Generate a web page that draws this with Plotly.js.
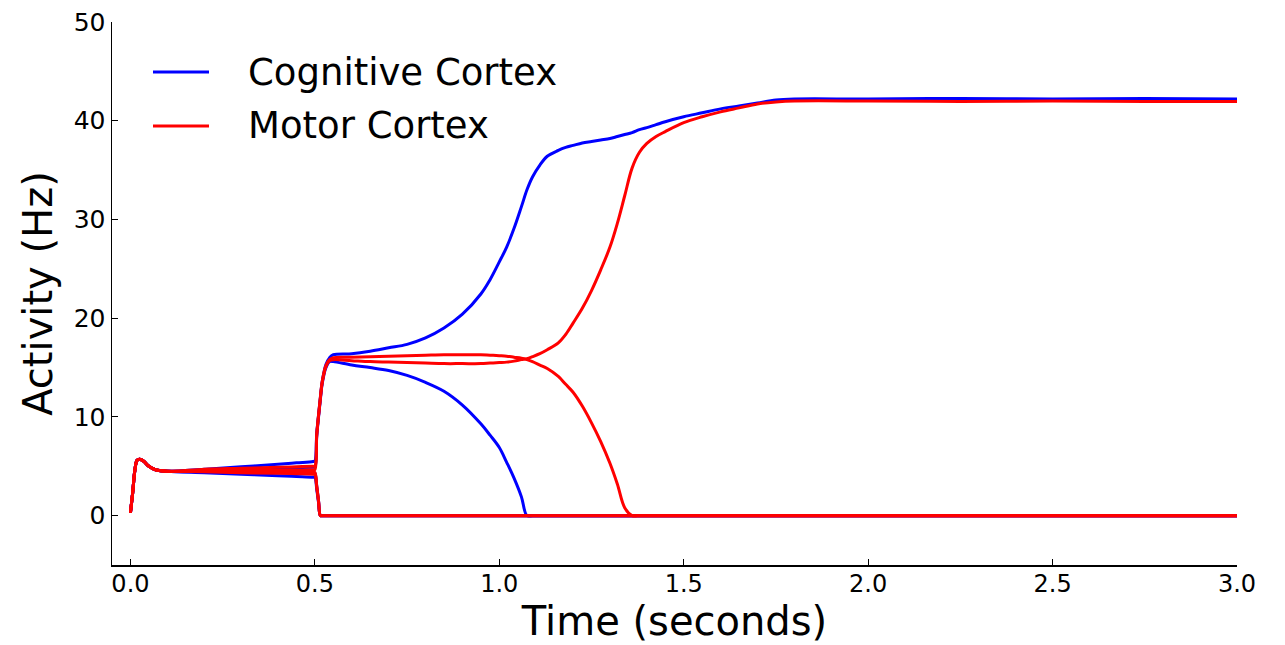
<!DOCTYPE html>
<html>
<head>
<meta charset="utf-8">
<script src="https://cdn.plot.ly/plotly-3.0.1.min.js"></script>
<style>
  html, body { margin: 0; padding: 0; background: #ffffff; }
  #chart { width: 1285px; height: 645px; }
</style>
</head>
<body>
<div id="chart"></div>
<script>
// ---- Data ----
const time = [0, 0.006, 0.012, 0.018, 0.025, 0.036, 0.05, 0.068, 0.1,
  0.2, 0.3, 0.4, 0.45, 0.495, 0.5, 0.505, 0.51, 0.515, 0.52,
  0.53, 0.54, 0.55, 0.6, 0.65, 0.7, 0.75, 0.8, 0.85, 0.9,
  0.95, 0.975, 1.0, 1.02, 1.04, 1.06, 1.075, 1.09, 1.11, 1.13,
  1.16, 1.18, 1.2, 1.225, 1.25, 1.275, 1.3, 1.32, 1.34, 1.36,
  1.38, 1.4, 1.425, 1.45, 1.5, 1.55, 1.6, 1.65, 1.7, 1.75,
  1.8, 2.0, 2.25, 2.5, 2.75, 3.0];

// Cognitive cortex channels (Hz)
const cog1 = [0.3, 2.3, 4.6, 5.6, 5.7, 5.5, 5.0, 4.65, 4.5,
  4.7, 4.95, 5.2, 5.35, 5.48, 5.55, 8.3, 10.2, 12.0, 13.6,
  15.3, 16.0, 16.3, 16.4, 16.65, 17.0, 17.35, 18.0, 19.0, 20.4,
  22.45, 23.9, 25.7, 27.2, 29.1, 31.3, 33.0, 34.3, 35.5, 36.4,
  37.0, 37.3, 37.5, 37.75, 37.9, 38.05, 38.2, 38.4, 38.6, 38.8,
  39.1, 39.3, 39.6, 39.9, 40.4, 40.8, 41.2, 41.5, 41.8, 42.1,
  42.2, 42.2, 42.25, 42.2, 42.25, 42.2];
const cog2 = [0.3, 2.3, 4.6, 5.6, 5.7, 5.5, 5.0, 4.65, 4.5,
  4.6, 4.7, 4.8, 4.85, 4.9, 4.9, 8.0, 10.0, 11.8, 13.4,
  15.0, 15.6, 15.6, 15.25, 15.0, 14.7, 14.2, 13.5, 12.6, 11.2,
  9.3, 8.15, 6.9, 5.4, 3.8, 1.9, 0, 0, 0, 0,
  0, 0, 0, 0, 0, 0, 0, 0, 0, 0,
  0, 0, 0, 0, 0, 0, 0, 0, 0, 0,
  0, 0, 0, 0, 0, 0];
const cog3 = [0.3, 2.3, 4.6, 5.6, 5.7, 5.5, 5.0, 4.65, 4.5,
  4.45, 4.4, 4.35, 4.32, 4.3, 4.3, 3.0, 1.5, 0, 0,
  0, 0, 0, 0, 0, 0, 0, 0, 0, 0,
  0, 0, 0, 0, 0, 0, 0, 0, 0, 0,
  0, 0, 0, 0, 0, 0, 0, 0, 0, 0,
  0, 0, 0, 0, 0, 0, 0, 0, 0, 0,
  0, 0, 0, 0, 0, 0];
const cog4 = [0.3, 2.3, 4.6, 5.6, 5.7, 5.5, 5.0, 4.65, 4.5,
  4.35, 4.2, 4.05, 3.97, 3.9, 3.9, 2.7, 1.3, 0, 0,
  0, 0, 0, 0, 0, 0, 0, 0, 0, 0,
  0, 0, 0, 0, 0, 0, 0, 0, 0, 0,
  0, 0, 0, 0, 0, 0, 0, 0, 0, 0,
  0, 0, 0, 0, 0, 0, 0, 0, 0, 0,
  0, 0, 0, 0, 0, 0];

// Motor cortex channels (Hz)
const mot1 = [0.3, 2.3, 4.6, 5.6, 5.7, 5.5, 5.0, 4.65, 4.5,
  4.55, 4.6, 4.6, 4.62, 4.65, 4.65, 8.1, 10.1, 11.9, 13.5,
  15.1, 15.7, 15.8, 15.7, 15.6, 15.55, 15.5, 15.45, 15.4, 15.4,
  15.4, 15.45, 15.5, 15.55, 15.65, 15.8, 15.9, 16.1, 16.4, 16.8,
  17.5, 18.35, 19.5, 21.0, 22.8, 24.9, 27.2, 29.6, 32.4, 35.2,
  36.8, 37.7, 38.4, 38.9, 39.8, 40.4, 40.9, 41.3, 41.7, 41.9,
  42.0, 42.0, 41.95, 42.0, 41.95, 41.95];
const mot2 = [0.3, 2.3, 4.6, 5.6, 5.7, 5.5, 5.0, 4.65, 4.5,
  4.7, 4.8, 4.9, 4.95, 5.0, 5.0, 8.2, 10.2, 12.0, 13.6,
  15.2, 15.8, 16.0, 16.05, 16.1, 16.15, 16.2, 16.25, 16.3, 16.3,
  16.3, 16.25, 16.2, 16.15, 16.05, 15.95, 15.8, 15.6, 15.25, 14.9,
  14.1, 13.3, 12.5, 11.1, 9.4, 7.5, 5.3, 3.2, 0.8, 0,
  0, 0, 0, 0, 0, 0, 0, 0, 0, 0,
  0, 0, 0, 0, 0, 0];
const mot3 = [0.3, 2.3, 4.6, 5.6, 5.7, 5.5, 5.0, 4.65, 4.5,
  4.5, 4.45, 4.4, 4.39, 4.38, 4.38, 3.0, 1.5, 0, 0,
  0, 0, 0, 0, 0, 0, 0, 0, 0, 0,
  0, 0, 0, 0, 0, 0, 0, 0, 0, 0,
  0, 0, 0, 0, 0, 0, 0, 0, 0, 0,
  0, 0, 0, 0, 0, 0, 0, 0, 0, 0,
  0, 0, 0, 0, 0, 0];
const mot4 = [0.3, 2.3, 4.6, 5.6, 5.7, 5.5, 5.0, 4.65, 4.5,
  4.45, 4.35, 4.3, 4.25, 4.2, 4.2, 2.9, 1.4, 0, 0,
  0, 0, 0, 0, 0, 0, 0, 0, 0, 0,
  0, 0, 0, 0, 0, 0, 0, 0, 0, 0,
  0, 0, 0, 0, 0, 0, 0, 0, 0, 0,
  0, 0, 0, 0, 0, 0, 0, 0, 0, 0,
  0, 0, 0, 0, 0, 0];

const legendLabels = ["Cognitive Cortex", "Motor Cortex"];
const xTickVals = [0.0, 0.5, 1.0, 1.5, 2.0, 2.5, 3.0];
const yTickVals = [0, 10, 20, 30, 40, 50];

// ---- Styles ----
const BLUE = "#0000ff";
const RED = "#ff0000";
const FONT = "DejaVu Sans, sans-serif";

function tr(y, color, name) {
  return {
    x: time, y: y, type: "scatter", mode: "lines", name: name,
    line: { color: color, width: 3, shape: "spline", smoothing: 1 },
    showlegend: false, hoverinfo: "skip"
  };
}

const data = [
  tr(cog3, BLUE, legendLabels[0]), tr(cog4, BLUE, legendLabels[0]),
  tr(cog2, BLUE, legendLabels[0]), tr(cog1, BLUE, legendLabels[0]),
  tr(mot3, RED, legendLabels[1]), tr(mot4, RED, legendLabels[1]),
  tr(mot2, RED, legendLabels[1]), tr(mot1, RED, legendLabels[1])
];

const L = 112, R = 48, T = 22, B = 80;
const W = 1285, H = 645;
const pw = W - L - R, ph = H - T - B;
function px(xPix) { return (xPix - L) / pw; }
function py(yPix) { return (H - B - yPix) / ph; }

const legendRows = [
  { label: legendLabels[0], color: BLUE, y: 72 },
  { label: legendLabels[1], color: RED, y: 126 }
];

const shapes = legendRows.map(r => ({
  type: "line", xref: "paper", yref: "paper",
  x0: px(153), x1: px(209), y0: py(r.y), y1: py(r.y),
  line: { color: r.color, width: 3 }
}));
const annotations = legendRows.map(r => ({
  xref: "paper", yref: "paper", x: px(246), y: py(r.y),
  xanchor: "left", yanchor: "middle", showarrow: false,
  text: r.label, font: { family: FONT, size: 37, color: "#000000" }
}));

const layout = {
  width: W, height: H,
  margin: { l: L, r: R, t: T, b: B, pad: 0 },
  paper_bgcolor: "#ffffff", plot_bgcolor: "#ffffff",
  font: { family: FONT, color: "#000000" },
  showlegend: false,
  xaxis: {
    range: [-0.05, 3.0], tickvals: xTickVals, tickformat: ".1f",
    ticks: "inside", ticklen: 6, tickwidth: 1, tickcolor: "#000000",
    showline: true, linecolor: "#000000", linewidth: 1.5, mirror: false,
    showgrid: false, zeroline: false, ticklabelstandoff: -3,
    tickfont: { family: FONT, size: 24, color: "#000000" },
    title: { text: "Time (seconds)", font: { family: FONT, size: 40, color: "#000000" }, standoff: 6 }
  },
  yaxis: {
    range: [-5, 50], tickvals: yTickVals,
    ticks: "inside", ticklen: 6, tickwidth: 1, tickcolor: "#000000",
    showline: true, linecolor: "#000000", linewidth: 1.5, mirror: false,
    showgrid: false, zeroline: false,
    tickfont: { family: FONT, size: 25, color: "#000000" },
    title: { text: "Activity (Hz)", font: { family: FONT, size: 40, color: "#000000" }, standoff: 8 }
  },
  shapes: shapes,
  annotations: annotations
};

Plotly.newPlot("chart", data, layout, { staticPlot: true, displayModeBar: false });
</script>
</body>
</html>
